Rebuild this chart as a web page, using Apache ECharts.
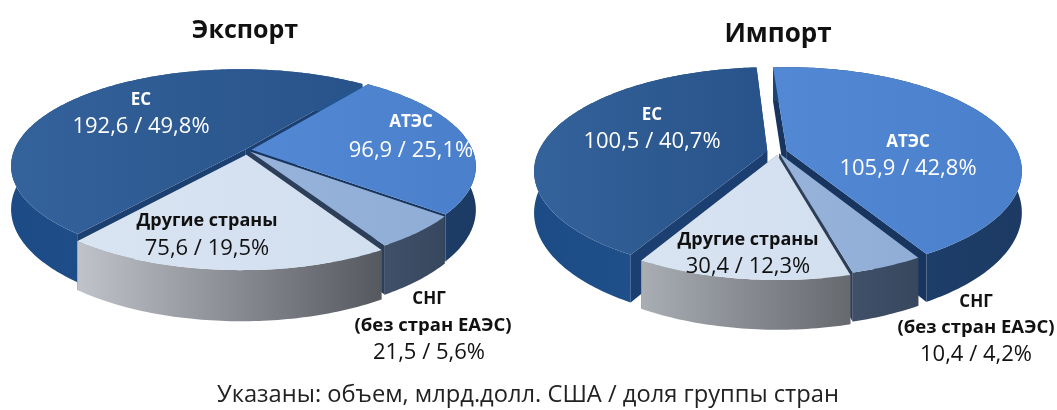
<!DOCTYPE html>
<html><head><meta charset="utf-8">
<style>html,body{margin:0;padding:0;background:#fff}#c{width:1057px;height:410px}</style>
<script src="https://cdn.jsdelivr.net/npm/echarts@6/dist/echarts.min.js"></script>
</head><body><div id="c"></div>
<script>
const categories = ['ЕС','АТЭС','СНГ','Другие страны'];
const exportVolumes = [192.6, 96.9, 21.5, 75.6];
const exportShares  = [49.8, 25.1, 5.6, 19.5];
const importVolumes = [100.5, 105.9, 10.4, 30.4];
const importShares  = [40.7, 42.8, 4.2, 12.3];
const titles = ['Экспорт','Импорт'];
const footnote = 'Указаны: объем, млрд.долл. США / доля группы стран';
const cisNote = '(без стран ЕАЭС)';

const FONT = '"Open Sans", sans-serif';
const topFill = [
  ['#34629A','#28528A'], ['#5288D4','#4A7FCB'], ['#97B3DA','#8FADD6'], ['#D9E4F2','#D2DFEF']
];
const sideFill = [
  ['#1C4B85','#24568F'], ['#1F4474','#1C3A63'], ['#3F5068','#37475E'], ['#C0C4CA','#55595F']
];
const radialFill = ['#1B3F70','#17355F','#2C3E58','#6B7078'];

const pies = [
  { cx:242, cy:150, apexShift:5, a:226, b:94,  k:0.17, d:42, start:-141.5, explode:[0.01,0.02,0.02,0.05],
    othersSide:['#C0C4CA','#55595F'],
    labels:[[141,100,127,'#fff'],[411,122,151,'#fff'],[429,299,353,'#111'],[207,221,249,'#111']], note:[433,326] },
  { cx:779, cy:152, apexShift:-1, a:230, b:100, k:0.19, d:40, start:-150.5, explode:[0.048,0.04,0.015,0.03],
    othersSide:['#A9AEB4','#66696E'],
    labels:[[652,115,142,'#fff'],[908,142,169,'#fff'],[976,302,355,'#111'],[748,240,267,'#111']], note:[976,328] }
];

const rad = x => x * Math.PI / 180;
function fmt(v){ return v.toFixed(1).replace('.', ','); }

function makeRender(pie, volumes, shares) {
  const total = shares.reduce((s, x) => s + x, 0);
  return function (params, api) {
    const i = params.dataIndex;
    let before = 0;
    for (let j = 0; j < i; j++) before += shares[j];
    const t0 = pie.start + before / total * 360;
    const t1 = t0 + api.value(0) / total * 360;
    const mid = rad((t0 + t1) / 2), e = pie.explode[i];
    const P = (deg, r, down) => {
      const u = r * Math.sin(rad(deg)) + e * Math.sin(mid);
      const v = -r * Math.cos(rad(deg)) - e * Math.cos(mid);
      const w = 1 - pie.k * v;
      const shift = r === 0 ? pie.apexShift : 0;
      return [pie.cx + shift + pie.a * u / w, pie.cy + (pie.b * v + (down ? pie.d : 0)) / w];
    };
    const rim = [], rimLow = [];
    for (let t = t0; t < t1; t += 1) { rim.push(P(t, 1, false)); rimLow.push(P(t, 1, true)); }
    rim.push(P(t1, 1, false)); rimLow.push(P(t1, 1, true));
    const apex = P(0, 0, false), apexLow = P(0, 0, true);
    const grad = (c) => ({ type:'linear', x:0, y:0, x2:1, y2:0,
      colorStops:[{offset:0,color:c[0]},{offset:1,color:c[1]}] });
    const poly = (points, fill) => ({ type:'polygon', shape:{points}, style:{fill, stroke:null} });
    const side = i === 3 ? pie.othersSide : sideFill[i];
    const children = [
      poly([apex, rim[0], rimLow[0], apexLow], radialFill[i]),
      poly([apex, rim[rim.length-1], rimLow[rimLow.length-1], apexLow], radialFill[i]),
      poly(rim.concat(rimLow.slice().reverse()), grad(side)),
      poly([apex].concat(rim), grad(topFill[i]))
    ];
    const L = pie.labels[i];
    const text = (x, y, str, size, weight, fill) => ({
      type:'text', x, y, z2:100,
      style:{ text:str, font:`${weight} ${size}px ${FONT}`, fill, align:'center', verticalAlign:'middle' }
    });
    const nameSize = i === 3 ? 18 : 17;
    children.push(text(L[0], L[1], categories[i], nameSize, 700, L[3]));
    children.push(text(L[0], L[2], fmt(volumes[i]) + ' / ' + fmt(shares[i]) + '%', 22, 400, L[3]));
    if (i === 2) children.push(text(pie.note[0], pie.note[1], cisNote, 18.5, 700, '#111'));
    return { type:'group', children };
  };
}

const chart = echarts.init(document.getElementById('c'), null, { renderer:'canvas' });
chart.setOption({
  animation:false,
  backgroundColor:'#fff',
  title:[
    { text:titles[0], left:240, top:26, textAlign:'center', textVerticalAlign:'middle',
      textStyle:{ fontFamily:FONT, fontSize:25, fontWeight:700, color:'#111' } },
    { text:titles[1], left:773, top:30, textAlign:'center', textVerticalAlign:'middle',
      textStyle:{ fontFamily:FONT, fontSize:26, fontWeight:700, color:'#111' } },
    { text:footnote, left:523, top:390, textAlign:'center', textVerticalAlign:'middle',
      textStyle:{ fontFamily:FONT, fontSize:23.7, fontWeight:400, color:'#222' } }
  ],
  series:[
    { type:'custom', coordinateSystem:'none', silent:true, data:exportShares,
      renderItem:makeRender(pies[0], exportVolumes, exportShares) },
    { type:'custom', coordinateSystem:'none', silent:true, data:importShares,
      renderItem:makeRender(pies[1], importVolumes, importShares) }
  ]
});
</script></body></html>
